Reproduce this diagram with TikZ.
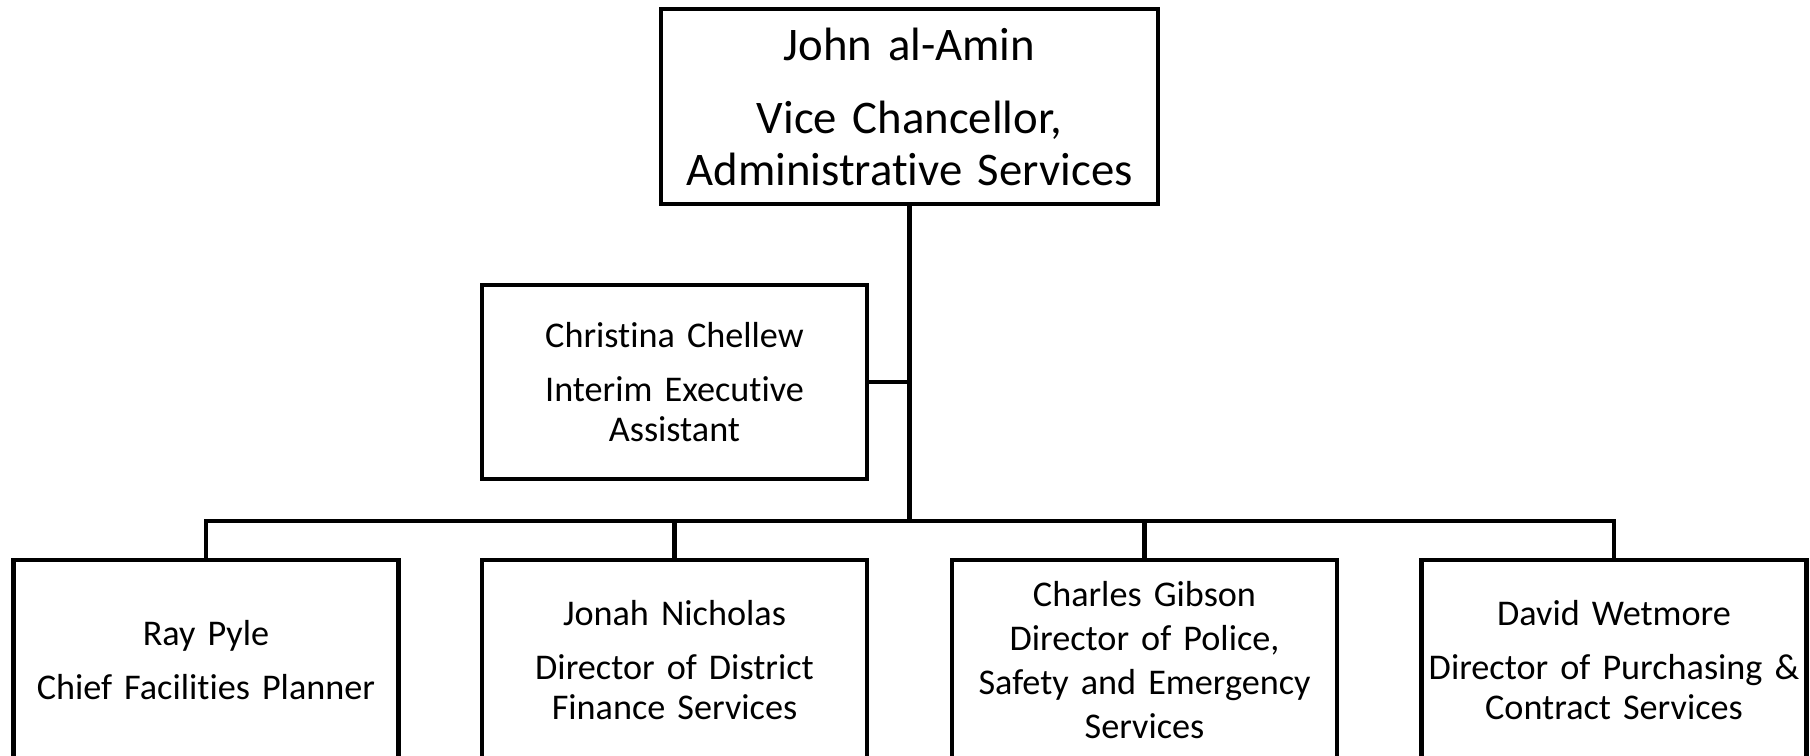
\documentclass[tikz,border=0pt]{standalone}
\usepackage{fontspec}
\setmainfont{Carlito}[Ligatures=NoCommon]
\usetikzlibrary{positioning}

\tikzset{
  headbox/.style={draw, line width=1.4pt, align=center, text width=4.6cm,
    minimum width=4.97cm, minimum height=1.95cm, font=\fontsize{13.3}{14.8}\selectfont},
  staffbox/.style={draw, line width=1.4pt, align=center, inner xsep=0pt, text width=3.8cm,
    minimum width=3.85cm, minimum height=1.94cm, font=\fontsize{10.3}{11.5}\selectfont},
  reportbox/.style={staffbox, minimum height=2.0cm},
  orgline/.style={line width=1.3pt}
}

\begin{document}
\begin{tikzpicture}

  \clip (0,0) rectangle (18.1,-7.55);

  \node (Top) [headbox] at (9.095,-1.065) {John al-Amin\\[6pt] Vice Chancellor,\\ Administrative Services};

  \node (Ray) [reportbox] at (2.06,-6.6) {Ray Pyle\\[4pt] Chief Facilities Planner};
  \node (Jonah) [reportbox, node distance=4.685cm, right of=Ray] {Jonah Nicholas\\[4pt] Director of District\\ Finance Services};
  \node (Charles) [reportbox, node distance=4.70cm, right of=Jonah] {Charles Gibson\\[1pt] Director of Police,\\[1pt] Safety and Emergency\\[1pt] Services};
  \node (David) [reportbox, node distance=4.695cm, right of=Charles] {David Wetmore\\[4pt] Director of Purchasing \&\\ Contract Services};

  \node (Assistant) [staffbox, node distance=2.78cm, above of=Jonah] {Christina Chellew\\[4pt] Interim Executive\\ Assistant};

  \coordinate (Bus) at (0,-5.21);

  \draw [orgline] (Top.south) -- (Top.south |- Bus);
  \draw [orgline] (Assistant.east) -- (Assistant.east -| Top.south);
  \draw [orgline] (Ray.north) -- (Ray.north |- Bus) -- (David.north |- Bus) -- (David.north);
  \draw [orgline] (Jonah.north) -- (Jonah.north |- Bus);
  \draw [orgline] (Charles.north) -- (Charles.north |- Bus);

\end{tikzpicture}
\end{document}
